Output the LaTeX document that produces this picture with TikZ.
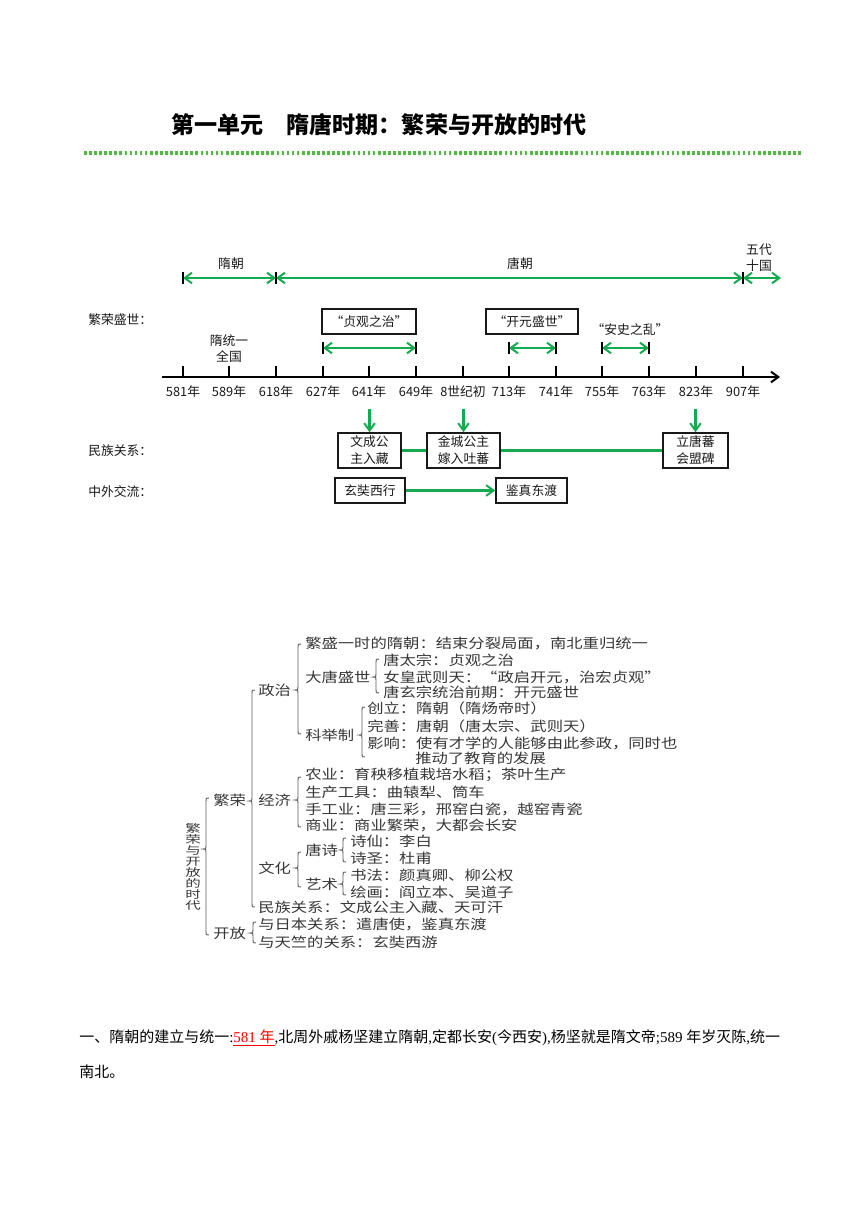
\documentclass[tikz,border=0pt]{standalone}
\usepackage{fontspec}
\setmainfont{Liberation Serif}
\newfontfamily\cjk{Noto Sans CJK SC}
\newfontfamily\mapfont{Noto Sans CJK SC}[FakeStretch=1.2]
\newfontfamily\vfont{Noto Sans CJK SC}[FakeStretch=1.45]
\usetikzlibrary{arrows.meta}
\definecolor{tgreen}{RGB}{22,170,80}
\definecolor{dgreen}{RGB}{80,185,65}
\definecolor{mmgray}{RGB}{55,55,55}
\tikzset{
 tl/.style={font=\cjk\fontsize{9.6pt}{12.75pt}\selectfont, inner sep=0pt, text=black!90},
 barb/.tip={Straight Barb[length=5.5pt,width=8pt,line width=1.5pt]},
 garrow/.style={draw=tgreen, line width=1.8pt, -barb},
 gdarrow/.style={draw=tgreen, line width=1.8pt, barb-barb},
 gline/.style={draw=tgreen, line width=1.8pt},
 tickmark/.style={draw=black, line width=1.6pt},
 axisline/.style={draw=black, line width=1.8pt, -barb},
 tbox/.style={tl, draw=black!90, line width=1.2pt, align=center},
 mm/.style={font=\mapfont\fontsize{10.2pt}{12pt}\selectfont, text=mmgray, inner sep=0pt, anchor=west},
 brc/.style={draw=mmgray!80, line width=0.7pt},
 para/.style={font=\fontsize{11.25pt}{13pt}\selectfont, inner sep=0pt, anchor=west},
 dotline/.style={draw=dgreen, line width=2.4pt, dash pattern=on 2pt off 1.8pt},
}
\newcommand{\mbrace}[4]{%
 \draw[brc] (#1+3,#2) .. controls (#1,#2) .. (#1,#2+3) -- (#1,#3-3)
   .. controls (#1,#3) .. (#1-3,#3) .. controls (#1,#3) .. (#1,#3+3)
   -- (#1,#4-3) .. controls (#1,#4) .. (#1+3,#4);}
\begin{document}
\begin{tikzpicture}[x=0.75pt,y=-0.75pt]
\useasboundingbox (0,0) rectangle (860,1216);
\fill[white] (0,0) rectangle (860,1216);

% title
\node[anchor=west, inner sep=0pt, font=\cjk\bfseries\fontsize{17.3pt}{20pt}\selectfont] (title) at (171,125) {第一单元　隋唐时期：繁荣与开放的时代};
\coordinate (dl) at (84,153);
\coordinate (dr) at (802,153);
\draw[dotline] (dl) -- (dr);

% dynasty bars
\coordinate (d581) at (183,278);
\coordinate (d618) at (276,278);
\coordinate (d907) at (743,278);
\coordinate (dend) at (781,278);
\draw[gdarrow] (d581) -- (d618);
\draw[gdarrow] (d618) -- (d907);
\draw[gdarrow] (d907) -- (dend);
\foreach \x in {183,276,743} \draw[tickmark] (\x,272) -- (\x,284);
\node[tl] (sui) at (231,264) {隋朝};
\node[tl] (tang) at (520,264) {唐朝};
\node[tl, align=center, font=\cjk\fontsize{9.6pt}{12pt}\selectfont] (wudai) at (759,258) {五代\\十国};

% left labels
\node[tl, anchor=west] (lab1) at (88,320) {繁荣盛世：};
\node[tl, anchor=west] (lab2) at (88,451) {民族关系：};
\node[tl, anchor=west] (lab3) at (88,492) {中外交流：};

% prosperity periods
\node[tbox, minimum width=70.5pt, minimum height=18.75pt] (zg) at (369,321.5) {“贞观之治”};
\node[tbox, minimum width=69pt, minimum height=18.75pt] (ky) at (532,321.5) {“开元盛世”};
\node[tl] (as) at (630,330) {“安史之乱”};
\node[tl, align=center, font=\cjk\fontsize{9.6pt}{12pt}\selectfont] (tong) at (229,349) {隋统一\\全国};
\coordinate (p627) at (323,348);
\coordinate (p649) at (416,348);
\coordinate (p713) at (509,348);
\coordinate (p741) at (556,348);
\coordinate (p755) at (602,348);
\coordinate (p763) at (649,348);
\draw[gdarrow] (p627) -- (p649);
\draw[gdarrow] (p713) -- (p741);
\draw[gdarrow] (p755) -- (p763);
\foreach \x in {323,416,509,556,602,649} \draw[tickmark] (\x,342) -- (\x,354);

% axis
\coordinate (ax0) at (162,377);
\coordinate (ax1) at (780,377);
\draw[axisline] (ax0) -- (ax1);
\foreach \x in {183,229,276,323,369,416,463,509,556,602,649,696,743} \draw[tickmark] (\x,366) -- (\x,377);
\foreach \x/\t/\n in {183/581年/y1,229/589年/y2,276/618年/y3,323/627年/y4,369/641年/y5,416/649年/y6,463/8世纪初/y7,509/713年/y8,556/741年/y9,602/755年/y10,649/763年/y11,696/823年/y12,743/907年/y13}
  \node[tl] (\n) at (\x,392) {\t};

% ethnic relations
\node[tbox, minimum width=47.25pt, minimum height=26.25pt] (wc) at (369.5,450.5) {文成公\\主入藏};
\node[tbox, minimum width=54.75pt, minimum height=26.25pt] (jc) at (463.5,450.5) {金城公主\\嫁入吐蕃};
\node[tbox, minimum width=48.75pt, minimum height=26.25pt] (lt) at (695.5,450.5) {立唐蕃\\会盟碑};
\coordinate (a641) at (369.5,409);
\coordinate (a8c) at (463.5,409);
\coordinate (a823) at (695.5,409);
\draw[garrow] (a641) -- (wc.north);
\draw[garrow] (a8c) -- (jc.north);
\draw[garrow] (a823) -- (lt.north);
\draw[gline] (wc.east) -- (jc.west);
\draw[gline] (jc.east) -- (lt.west);

% foreign exchange
\node[tbox, minimum width=52.5pt, minimum height=18.75pt] (xz) at (370,490.5) {玄奘西行};
\node[tbox, minimum width=53.25pt, minimum height=18.75pt] (jz) at (531.5,490.5) {鉴真东渡};
\draw[garrow] (xz.east) -- (jz.west);

% mind map
\node[font=\vfont\fontsize{8pt}{8.25pt}\selectfont, text=mmgray, align=center, inner sep=0pt] (m0) at (193,867) {繁\\荣\\与\\开\\放\\的\\时\\代};
\node[mm] (m1) at (305,643) {繁盛一时的隋朝：结束分裂局面，南北重归统一};
\node[mm] (m2) at (305,677) {大唐盛世};
\node[mm] (m3) at (383,660) {唐太宗：贞观之治};
\node[mm] (m4) at (383,677) {女皇武则天：“政启开元，治宏贞观”};
\node[mm] (m5) at (383,692) {唐玄宗统治前期：开元盛世};
\node[mm] (m6) at (305,735) {科举制};
\node[mm] (m7) at (367,708) {创立：隋朝（隋炀帝时）};
\node[mm] (m8) at (367,726) {完善：唐朝（唐太宗、武则天）};
\node[mm] (m9) at (367,743) {影响：使有才学的人能够由此参政，同时也};
\node[mm] (m10) at (415,758) {推动了教育的发展};
\node[mm] (m11) at (258,690) {政治};
\node[mm] (m12) at (305,775) {农业：育秧移植栽培水稻；茶叶生产};
\node[mm] (m13) at (305,792) {生产工具：曲辕犁、筒车};
\node[mm] (m14) at (305,809) {手工业：唐三彩，邢窑白瓷，越窑青瓷};
\node[mm] (m15) at (305,825) {商业：商业繁荣，大都会长安};
\node[mm] (m16) at (258,800) {经济};
\node[mm] (m17) at (350,841) {诗仙：李白};
\node[mm] (m18) at (350,858) {诗圣：杜甫};
\node[mm] (m19) at (305,850) {唐诗};
\node[mm] (m20) at (350,875) {书法：颜真卿、柳公权};
\node[mm] (m21) at (350,892) {绘画：阎立本、吴道子};
\node[mm] (m22) at (305,884) {艺术};
\node[mm] (m23) at (258,868) {文化};
\node[mm] (m24) at (258,907) {民族关系：文成公主入藏、天可汗};
\node[mm] (m25) at (213,800) {繁荣};
\node[mm] (m26) at (258,924) {与日本关系：遣唐使，鉴真东渡};
\node[mm] (m27) at (258,942) {与天竺的关系：玄奘西游};
\node[mm] (m28) at (213,933) {开放};
\mbrace{206}{798}{849}{935}
\mbrace{252}{690}{801}{907}
\mbrace{298}{644}{690}{734}
\mbrace{376}{659}{677}{693}
\mbrace{362}{707}{735}{757}
\mbrace{298}{777}{800}{827}
\mbrace{298}{852}{868}{887}
\mbrace{343}{838}{850}{862}
\mbrace{343}{872}{884}{895}
\mbrace{253}{922}{933}{943}

% paragraph
\node[para] (p1) at (79,1038) {{\cjk 一、隋朝的建立与统一}:\textcolor{red}{\underline{581 {\cjk 年}}},{\cjk 北周外戚杨坚建立隋朝},{\cjk 定都长安}({\cjk 今西安}),{\cjk 杨坚就是隋文帝};589 {\cjk 年岁灭陈},{\cjk 统一}};
\node[para] (p2) at (79,1072) {{\cjk 南北。}};
\end{tikzpicture}
\end{document}
